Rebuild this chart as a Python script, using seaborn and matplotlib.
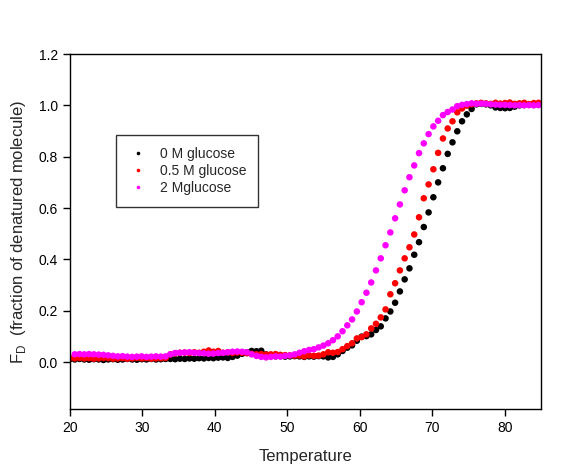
import pandas as pd
import matplotlib
matplotlib.use("Agg")
import matplotlib.pyplot as plt
import seaborn as sns

# temperature grid (deg C)
temperature = [20.00, 20.66, 21.32, 21.98, 22.64, 23.30, 23.96, 24.62, 25.28, 25.94,
               26.60, 27.26, 27.92, 28.58, 29.24, 29.90, 30.56, 31.22, 31.88, 32.54,
               33.20, 33.86, 34.52, 35.18, 35.84, 36.50, 37.16, 37.82, 38.48, 39.14,
               39.80, 40.46, 41.12, 41.78, 42.44, 43.10, 43.76, 44.42, 45.08, 45.74,
               46.40, 47.06, 47.72, 48.38, 49.04, 49.70, 50.36, 51.02, 51.68, 52.34,
               53.00, 53.66, 54.32, 54.98, 55.64, 56.30, 56.96, 57.62, 58.28, 58.94,
               59.60, 60.26, 60.92, 61.58, 62.24, 62.90, 63.56, 64.22, 64.88, 65.54,
               66.20, 66.86, 67.52, 68.18, 68.84, 69.50, 70.16, 70.82, 71.48, 72.14,
               72.80, 73.46, 74.12, 74.78, 75.44, 76.10, 76.76, 77.42, 78.08, 78.74,
               79.40, 80.06, 80.72, 81.38, 82.04, 82.70, 83.36, 84.02, 84.68]

# 0 M glucose
fd_0M = [0.011, 0.010, 0.012, 0.010, 0.009, 0.011, 0.010, 0.008, 0.010, 0.011,
         0.009, 0.010, 0.012, 0.010, 0.009, 0.011, 0.010, 0.012, 0.010, 0.011,
         0.012, 0.012, 0.011, 0.013, 0.012, 0.014, 0.013, 0.015, 0.014, 0.016,
         0.015, 0.017, 0.018, 0.016, 0.020, 0.025, 0.032, 0.038, 0.043, 0.042,
         0.044, 0.030, 0.024, 0.022, 0.023, 0.021, 0.022, 0.023, 0.022, 0.020,
         0.022, 0.021, 0.023, 0.022, 0.018, 0.020, 0.030, 0.043, 0.056, 0.065,
         0.083, 0.099, 0.101, 0.108, 0.125, 0.139, 0.170, 0.197, 0.231, 0.275,
         0.322, 0.365, 0.418, 0.467, 0.526, 0.583, 0.642, 0.700, 0.755, 0.811,
         0.856, 0.899, 0.938, 0.965, 0.986, 1.004, 1.006, 1.004, 1.000, 0.992,
         0.990, 0.989, 0.990, 0.995, 1.000, 1.004, 1.003, 1.005, 1.004]

# 0.5 M glucose
fd_05M = [0.015, 0.014, 0.016, 0.014, 0.015, 0.013, 0.014, 0.016, 0.015, 0.013,
          0.014, 0.015, 0.013, 0.014, 0.016, 0.014, 0.015, 0.013, 0.014, 0.015,
          0.016, 0.030, 0.034, 0.036, 0.037, 0.035, 0.038, 0.036, 0.040, 0.045,
          0.040, 0.043, 0.036, 0.038, 0.035, 0.037, 0.036, 0.034, 0.032, 0.030,
          0.031, 0.029, 0.030, 0.031, 0.028, 0.027, 0.026, 0.025, 0.025, 0.022,
          0.026, 0.024, 0.025, 0.030, 0.038, 0.036, 0.039, 0.050, 0.062, 0.073,
          0.092, 0.097, 0.108, 0.131, 0.149, 0.174, 0.205, 0.264, 0.307, 0.357,
          0.404, 0.447, 0.497, 0.564, 0.638, 0.692, 0.751, 0.815, 0.871, 0.910,
          0.938, 0.973, 0.988, 0.999, 1.004, 1.008, 1.010, 1.008, 1.006, 1.010,
          1.007, 1.009, 1.011, 1.006, 1.008, 1.010, 1.005, 1.009, 1.010]

# 2 M glucose (first temperature not measured)
fd_2M = [None, 0.030, 0.031, 0.030, 0.031, 0.030, 0.029, 0.028, 0.026, 0.024,
         0.022, 0.023, 0.021, 0.020, 0.021, 0.022, 0.020, 0.021, 0.022, 0.021,
         0.022, 0.030, 0.035, 0.036, 0.037, 0.038, 0.036, 0.035, 0.034, 0.032,
         0.033, 0.035, 0.036, 0.038, 0.040, 0.041, 0.040, 0.038, 0.030, 0.024,
         0.020, 0.018, 0.020, 0.022, 0.021, 0.024, 0.026, 0.030, 0.036, 0.042,
         0.047, 0.050, 0.057, 0.064, 0.073, 0.085, 0.100, 0.120, 0.143, 0.166,
         0.197, 0.233, 0.270, 0.310, 0.357, 0.404, 0.455, 0.505, 0.560, 0.614,
         0.669, 0.720, 0.766, 0.814, 0.852, 0.888, 0.918, 0.940, 0.962, 0.974,
         0.984, 0.997, 1.002, 1.005, 1.008, 1.006, 1.007, 1.006, 1.004, 1.003,
         1.002, 1.002, 1.001, 1.000, 1.001, 1.000, 1.001, 1.000, 1.001]

series_names = ["0 M glucose", "0.5 M glucose", "2 Mglucose"]
series_colors = ["#000000", "#ff0000", "#ff00ff"]

frames = []
for name, vals in zip(series_names, [fd_0M, fd_05M, fd_2M]):
    frames.append(pd.DataFrame({"Temperature": temperature, "FD": vals, "sample": name}))
df = pd.concat(frames, ignore_index=True).dropna()

sns.set_style("white")
plt.rcParams["font.family"] = ["Liberation Sans", "DejaVu Sans"]
plt.rcParams["mathtext.fontset"] = "custom"
plt.rcParams["mathtext.rm"] = "Liberation Sans"

fig = plt.figure(figsize=(5.76, 4.72), dpi=100)
ax = fig.add_axes([0.1215, 0.1335, 0.8175, 0.752])

sns.scatterplot(data=df, x="Temperature", y="FD", hue="sample",
                palette=dict(zip(series_names, series_colors)),
                s=22, linewidth=0, marker="o", ax=ax)

ax.set_xlim(20, 85)
ax.set_ylim(-0.183, 1.2)
ax.set_xticks([20, 30, 40, 50, 60, 70, 80])
ax.set_yticks([0.0, 0.2, 0.4, 0.6, 0.8, 1.0, 1.2])
ax.set_yticklabels(["0.0", "0.2", "0.4", "0.6", "0.8", "1.0", "1.2"])
ax.tick_params(axis="both", direction="out", length=5, width=1, labelsize=10,
               bottom=True, left=True, top=False, right=False, colors="black")
for sp in ax.spines.values():
    sp.set_color("black")
    sp.set_linewidth(1)

ax.set_xlabel("Temperature", fontsize=12, labelpad=10)
ax.set_ylabel(r"F$_\mathregular{D}$  (fraction of denatured molecule)", fontsize=12, labelpad=8)

leg = ax.legend(loc="upper left", bbox_to_anchor=(0.098, 0.772), borderaxespad=0,
                frameon=True, fancybox=False, fontsize=10, markerscale=0.55,
                handlelength=1.4, handletextpad=0.9, borderpad=0.85, labelspacing=0.22)
leg.get_frame().set_edgecolor("black")
leg.get_frame().set_linewidth(1)

fig.savefig("out.png", dpi=100)
